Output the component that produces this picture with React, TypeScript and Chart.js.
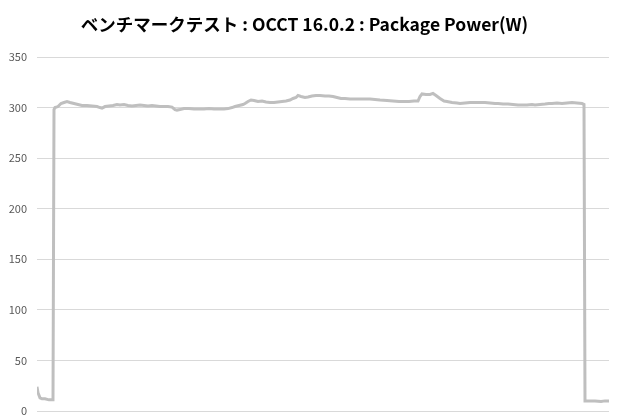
import { useEffect, useRef } from 'react';
import { Chart, registerables } from 'chart.js';

Chart.register(...registerables);

const chartTitle = 'ベンチマークテスト : OCCT 16.0.2 : Package Power(W)';

// sample time (index) and package power in W
const sampleTime = [
  0, 1, 3, 5, 8, 12, 16, 17, 18, 21, 24, 27, 30, 33, 37, 41, 45, 50, 55, 60,
  63, 65, 68, 72, 76, 80, 83, 87, 91, 95, 99, 103, 107, 111, 115, 119, 123, 127, 131, 135,
  138, 140, 143, 147, 152, 157, 162, 167, 172, 177, 182, 187, 191, 195, 198, 202, 206, 208, 211, 214,
  217, 221, 225, 229, 233, 237, 241, 245, 249, 253, 256, 259, 261, 264, 268, 271, 275, 279, 283, 288,
  292, 296, 300, 304, 308, 313, 318, 323, 328, 333, 338, 343, 350, 356, 362, 366, 372, 377, 381, 383,
  385, 389, 393, 396, 399, 403, 407, 410, 415, 420, 423, 428, 433, 438, 443, 448, 453, 458, 461, 466,
  471, 476, 481, 485, 490, 495, 498, 503, 508, 512, 515, 520, 525, 530, 535, 540, 545, 547, 548, 552,
  558, 564, 568, 572,
];

const packagePower = [
  24, 18, 13, 12, 12, 11, 11, 298, 300, 301, 304, 305, 306, 305, 304, 303, 302, 302, 301.5, 301,
  300, 299.5, 301, 301.5, 302, 303, 302.5, 303, 302, 301.5, 302, 302.5, 302, 301.5, 302, 301.5, 301, 301, 301, 300.5,
  298, 297.5, 298, 299, 299, 298.5, 298.5, 298.5, 299, 298.5, 298.5, 298.5, 299, 300, 301, 302, 303, 304, 306, 307.5,
  307, 306, 306.5, 305.5, 305, 305, 305.5, 306, 306.5, 307.5, 309, 310, 312, 311, 310, 310.5, 311.5, 312, 312, 311.5,
  311.5, 311, 310, 309, 309, 308.5, 308.5, 308.5, 308.5, 308.5, 308, 307.5, 307, 306.5, 306, 306, 306, 306.5, 306.5, 311,
  313.5, 313, 313, 314, 312, 309, 306.5, 306, 305, 304.5, 304, 304.5, 305, 305, 305, 305, 304.5, 304, 304, 303.5,
  303.5, 303, 302.5, 302.5, 302.5, 303, 302.5, 303, 303.5, 304, 304, 304.5, 304, 304.5, 305, 304.5, 304, 303, 10, 10,
  10, 9.5, 10, 10,
];

const yTicks = [0, 50, 100, 150, 200, 250, 300, 350];

export default function App() {
  const canvasRef = useRef<HTMLCanvasElement>(null);
  const chartRef = useRef<Chart | null>(null);

  useEffect(() => {
    if (!canvasRef.current) return;
    if (chartRef.current) chartRef.current.destroy();

    const points = sampleTime.map((t, i) => ({ x: t, y: packagePower[i] }));

    chartRef.current = new Chart(canvasRef.current, {
      type: 'line',
      data: {
        datasets: [{
          label: 'Package Power(W)',
          data: points,
          borderColor: '#bfbfbf',
          borderWidth: 3,
          pointRadius: 0,
          tension: 0,
          fill: false,
        }],
      },
      options: {
        responsive: false,
        animation: false,
        layout: { padding: { left: 0, right: 11, top: 0, bottom: 9 } },
        plugins: {
          legend: { display: false },
          tooltip: { enabled: false },
          title: {
            display: true,
            text: chartTitle,
            color: '#000000',
            font: { family: '"Noto Sans CJK JP", "Noto Sans", sans-serif', size: 17.5, weight: 'bold', lineHeight: 1.2 },
            padding: { top: 14, bottom: 22 },
          },
        },
        scales: {
          x: {
            type: 'linear',
            min: sampleTime[0],
            max: sampleTime[sampleTime.length - 1],
            display: false,
          },
          y: {
            min: yTicks[0],
            max: yTicks[yTicks.length - 1],
            afterFit: (scale) => {
              scale.width = 37;
              // keep the tick padding from pushing the plot area in
              scale.paddingTop = 0;
              scale.paddingBottom = 0;
            },
            afterBuildTicks: (scale) => { scale.ticks = yTicks.map((v) => ({ value: v })); },
            border: { display: false },
            grid: { color: '#d9d9d9', drawTicks: false, lineWidth: 1 },
            ticks: {
              color: '#595959',
              padding: 10,
              font: { family: '"Noto Sans CJK JP", "Noto Sans", sans-serif', size: 11 },
            },
          },
        },
      },
    });

    return () => {
      if (chartRef.current) {
        chartRef.current.destroy();
        chartRef.current = null;
      }
    };
  }, []);

  return (
    <div style={{ position: 'fixed', left: 0, top: 0, width: 620, height: 420, background: '#fff' }}>
      <canvas ref={canvasRef} width={620} height={420}></canvas>
    </div>
  );
}
